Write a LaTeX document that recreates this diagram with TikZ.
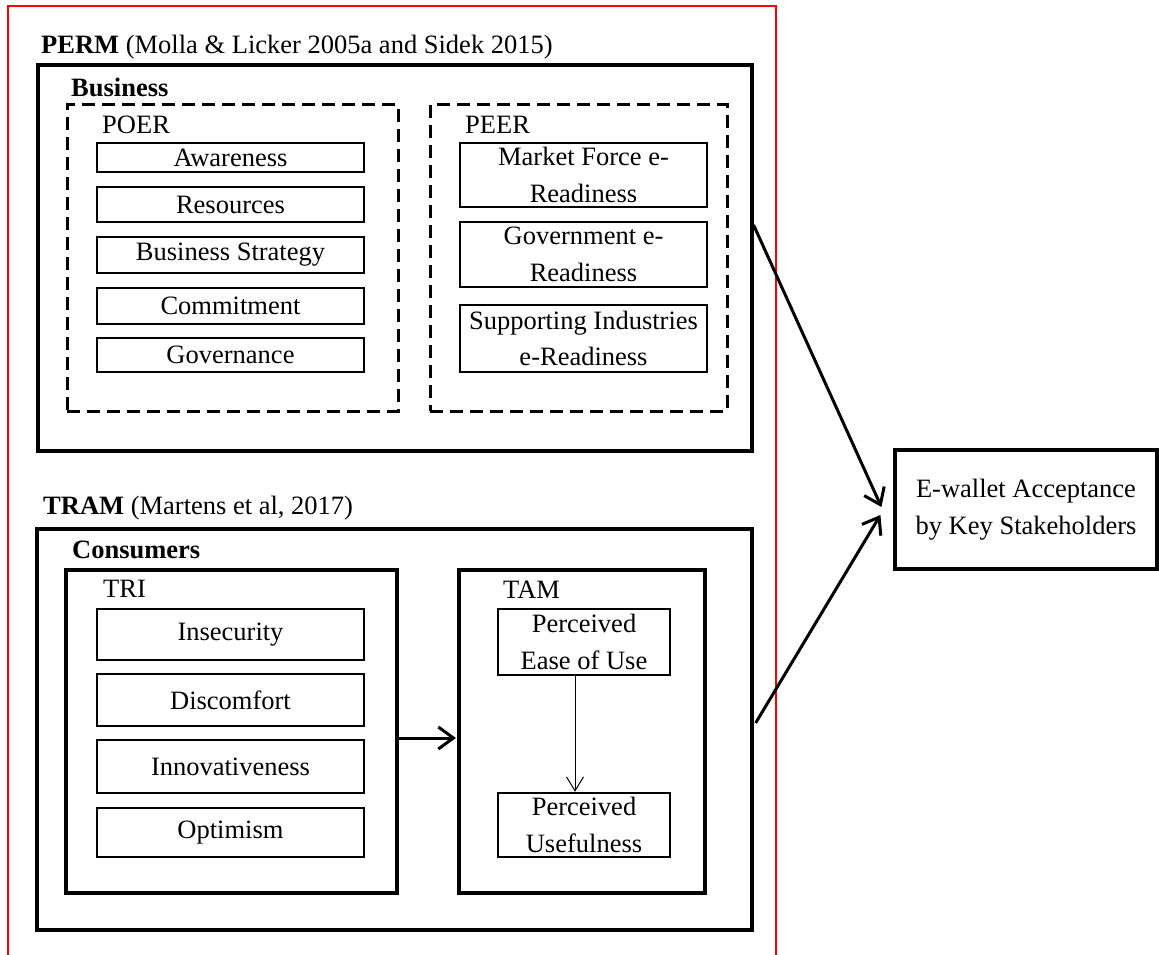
\documentclass[tikz,border=0pt]{standalone}
\usepackage{fontspec}
\setmainfont{Liberation Serif}
\usetikzlibrary{arrows.meta,calc}
\begin{document}
\begin{tikzpicture}[x=1pt,y=-1pt,
  txt/.style={font=\fontsize{26.5}{36.5}\selectfont},
  bigbox/.style={draw, line width=3.2pt, inner sep=0pt},
  dashbox/.style={draw, line width=3pt, dash pattern=on 13pt off 7pt, inner sep=0pt},
  itembox/.style={draw, line width=2.4pt, inner sep=0pt, align=center, txt},
  lbl/.style={anchor=west, inner sep=0pt, txt},
  arr/.style={line width=3pt, -{Straight Barb[length=15pt,width=22pt]}},
  thinarr/.style={line width=1pt, -{Straight Barb[length=14pt,width=17pt]}}]
\useasboundingbox (0,0) rectangle (1159,955);
% red frame
\draw[red, line width=2pt] (8,6) rectangle (776,980);

% PERM
\node[lbl] (permlbl) at (41,47) {\textbf{PERM} (Molla \& Licker 2005a and Sidek 2015)};
\node[bigbox, minimum width=714pt, minimum height=386pt] (perm) at (395,258) {};
\node[lbl] (business) at (71,87) {\textbf{Business}};
\node[dashbox, minimum width=331pt, minimum height=306pt] (poer) at (232.5,258) {};
\node[lbl] (poerlbl) at (102,125) {POER};
\node[itembox, minimum width=267pt, minimum height=29pt] (aw) at (230.5,157.5) {Awareness};
\node[itembox, minimum width=267pt, minimum height=35pt] (res) at (230.5,204.5) {Resources};
\node[itembox, minimum width=267pt, minimum height=36pt] (bs) at (230.5,255) {Business Strategy};
\node[itembox, minimum width=267pt, minimum height=36pt] (com) at (230.5,306) {Commitment};
\node[itembox, minimum width=267pt, minimum height=34pt] (gov) at (230.5,355) {Governance};

\node[dashbox, minimum width=297pt, minimum height=306pt] (peer) at (578.5,258) {};
\node[lbl] (peerlbl) at (465,125) {PEER};
\node[itembox, minimum width=247pt, minimum height=64pt] (mf) at (583.5,175) {Market Force e-\\Readiness};
\node[itembox, minimum width=247pt, minimum height=65pt] (gr) at (583.5,254.5) {Government e-\\Readiness};
\node[itembox, minimum width=247pt, minimum height=67pt] (si) at (583.5,338.5) {Supporting Industries\\e-Readiness};

% TRAM
\node[lbl] (tramlbl) at (43,508) {\textbf{TRAM} (Martens et al, 2017)};
\node[bigbox, minimum width=715pt, minimum height=401pt] (tram) at (394.5,729.5) {};
\node[lbl] (consumers) at (72,550) {\textbf{Consumers}};
\node[bigbox, minimum width=331pt, minimum height=323pt] (tri) at (231.5,731.5) {};
\node[lbl] (trilbl) at (103,589) {TRI};
\node[itembox, minimum width=267pt, minimum height=51pt] (ins) at (230.5,634.5) {Insecurity};
\node[itembox, minimum width=267pt, minimum height=52pt] (dis) at (230.5,700) {Discomfort};
\node[itembox, minimum width=267pt, minimum height=53pt] (inn) at (230.5,766.5) {Innovativeness};
\node[itembox, minimum width=267pt, minimum height=49pt] (opt) at (230.5,832.5) {Optimism};

\node[bigbox, minimum width=246pt, minimum height=323pt] (tam) at (582,731.5) {};
\node[lbl] (tamlbl) at (503,590) {TAM};
\node[itembox, minimum width=172pt, minimum height=66pt] (peou) at (584,642) {Perceived\\Ease of Use};
\node[itembox, minimum width=172pt, minimum height=64pt] (pu) at (584,825) {Perceived\\Usefulness};

% E-wallet
\node[bigbox, align=center, txt, minimum width=262pt, minimum height=119pt] (ew) at (1026,509.5) {E-wallet Acceptance\\by Key Stakeholders};

% connectors
\draw[arr] (tri.east |- 0,738) -- ([xshift=-1.5pt]tam.west |- 0,738);
\draw[thinarr] ([xshift=-9pt]peou.south) -- ([xshift=-9pt]pu.north);
\draw[arr] (perm.east |- 0,225) -- ($(ew.west)+(-12,-2.5)$);
\draw[arr] ([xshift=2pt]tram.east |- 0,723) -- ($(ew.west)+(-13,5.5)$);
\end{tikzpicture}
\end{document}
